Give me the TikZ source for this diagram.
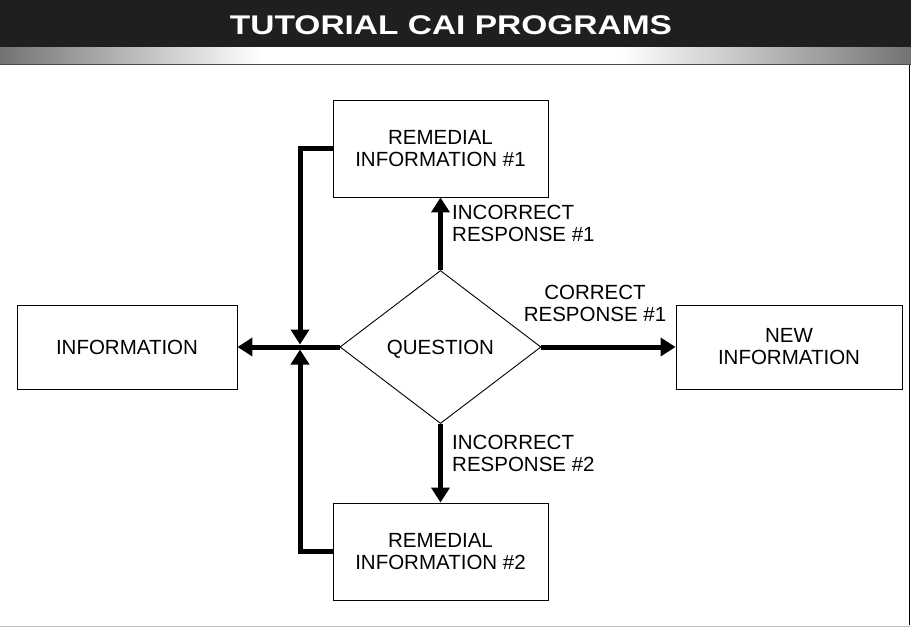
\documentclass[tikz,border=0pt]{standalone}
\usepackage{fontspec}
\setmainfont{Liberation Sans}
\usetikzlibrary{arrows.meta,shapes.geometric}
\definecolor{bandgray}{gray}{0.12}
\definecolor{fadegray}{gray}{0.45}
\begin{document}
\begin{tikzpicture}[x=1pt,y=-1pt,
  txt/.style={font=\fontsize{20.5}{22}\selectfont, align=center, inner sep=0pt},
  box/.style={draw, line width=0.9pt, rectangle, inner sep=0pt, txt},
  flow/.style={line width=5pt, -{Triangle[width=18pt,length=15pt]}},
]
\useasboundingbox (0,0) rectangle (911,627);

% header band
\fill[bandgray] (0,0) rectangle (911,47);
\shade[left color=fadegray, right color=white] (0,47) rectangle (260,64);
\shade[left color=white, right color=fadegray] (620,47) rectangle (911,64);
\draw[line width=1pt, black!70] (0,64.5) -- (911,64.5);
\node[text=white, font=\fontsize{27}{27}\selectfont\bfseries, inner sep=0pt]
  (title) at (451,25) {\scalebox{1.24}[1]{TUTORIAL CAI PROGRAMS}};

% frame
\draw[line width=1.2pt] (909.5,65) -- (909.5,625);
\draw[line width=0.6pt, black!25] (0,626) -- (909.5,626);

% nodes
\node[box, minimum width=220, minimum height=84] (info) at (127,347) {INFORMATION};
\node[box, minimum width=226, minimum height=84] (newinfo) at (789,347) {NEW\\INFORMATION};
\node[box, minimum width=215, minimum height=97] (rem1) at (440.5,148.5) {REMEDIAL\\INFORMATION \#1};
\node[box, minimum width=215, minimum height=97] (rem2) at (440.5,551.5) {REMEDIAL\\INFORMATION \#2};
\node[draw, line width=0.9pt, diamond, inner sep=0pt, minimum width=201, minimum height=153, txt]
  (q) at (440.5,347) {};
\node[txt] (qtext) at (440.5,349) {QUESTION};

% junction where the feedback lines meet
\coordinate (jt) at (300,344.5);
\coordinate (jb) at (300,349.5);

% connectors
\draw[flow] (q.west) -- (info.east);
\draw[flow] (q.east) -- (newinfo.west);
\draw[flow] (q.north) -- (rem1.south);
\draw[flow] (q.south) -- (rem2.north);
\draw[flow] (rem1.west) -| (jt);
\draw[flow] (rem2.west) -| (jb);

% branch labels
\node[txt, align=left, anchor=west] (inc1) at (452,223.5) {INCORRECT\\RESPONSE \#1};
\node[txt, align=left, anchor=west] (inc2) at (452,453.5) {INCORRECT\\RESPONSE \#2};
\node[txt] (cor1) at (595,303) {CORRECT\\RESPONSE \#1};
\end{tikzpicture}
\end{document}
